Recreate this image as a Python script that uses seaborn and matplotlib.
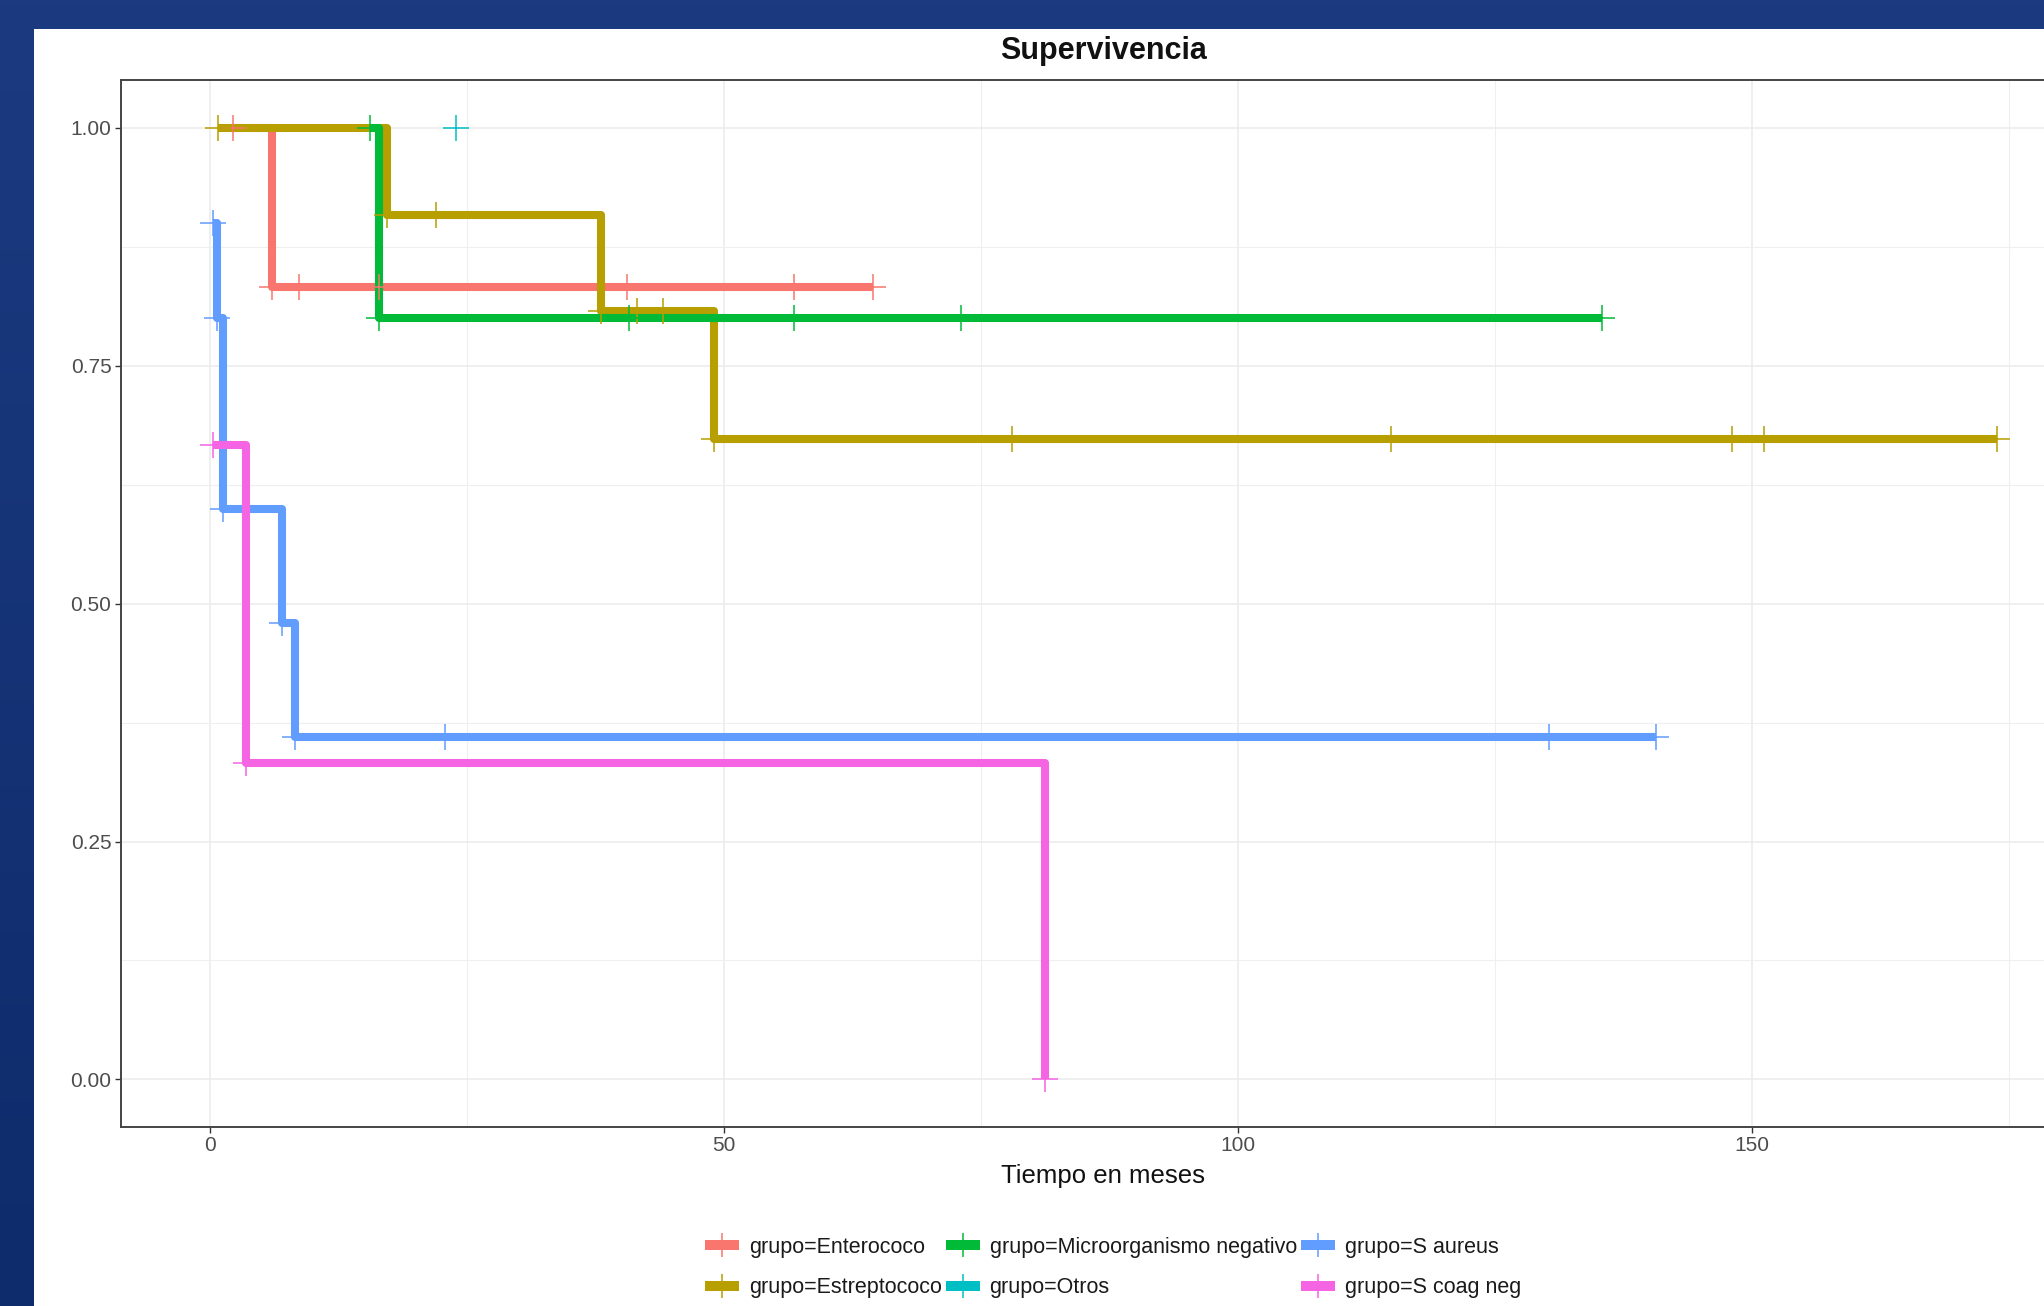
import numpy as np
import pandas as pd
import matplotlib
matplotlib.use("Agg")
import matplotlib.pyplot as plt
from matplotlib.lines import Line2D
from matplotlib.patches import Rectangle
from matplotlib.ticker import FixedLocator, FormatStrFormatter
import seaborn as sns

grupos = ["Enterococo", "Estreptococo", "Microorganismo negativo",
          "Otros", "S aureus", "S coag neg"]
colores = ["#F8766D", "#B79F00", "#00BA38", "#00BFC4", "#619CFF", "#F564E3"]

# Kaplan-Meier steps: time at which each survival level starts
# (each curve begins at its first observation; the last entry closes follow-up)
enterococo_t = [2.2, 6.0, 64.5]
enterococo_s = [1.000, 0.833, 0.833]
estreptococo_t = [0.8, 17.2, 38.0, 49.0, 173.8]
estreptococo_s = [1.000, 0.909, 0.808, 0.673, 0.673]
micro_neg_t = [15.6, 16.4, 135.4]
micro_neg_s = [1.000, 0.800, 0.800]
otros_t = [23.9]
otros_s = [1.000]
s_aureus_t = [0.3, 0.7, 1.3, 7.0, 8.3, 140.7]
s_aureus_s = [0.900, 0.800, 0.600, 0.480, 0.360, 0.360]
s_coag_neg_t = [0.3, 3.5, 81.2]
s_coag_neg_s = [0.667, 0.333, 0.000]

# Times marked with "+" on each curve
enterococo_marcas = [2.2, 6.0, 8.7, 16.4, 40.6, 56.8, 64.5]
estreptococo_marcas = [0.8, 17.2, 22.0, 38.0, 41.5, 44.1, 49.0,
                       78.0, 114.9, 148.1, 151.2, 173.8]
micro_neg_marcas = [15.6, 16.4, 40.8, 56.8, 73.1, 135.4]
otros_marcas = [23.9]
s_aureus_marcas = [0.3, 0.7, 1.3, 7.0, 8.3, 22.9, 130.3, 140.7]
s_coag_neg_marcas = [0.3, 3.5, 81.2]

x_ticks = [0, 50, 100, 150]
y_ticks = [0.00, 0.25, 0.50, 0.75, 1.00]

curvas_t = [enterococo_t, estreptococo_t, micro_neg_t, otros_t, s_aureus_t, s_coag_neg_t]
curvas_s = [enterococo_s, estreptococo_s, micro_neg_s, otros_s, s_aureus_s, s_coag_neg_s]
marcas_t = [enterococo_marcas, estreptococo_marcas, micro_neg_marcas,
            otros_marcas, s_aureus_marcas, s_coag_neg_marcas]


def nivel(ts, ss, t):
    idx = np.searchsorted(np.asarray(ts), t, side="right") - 1
    return ss[max(idx, 0)]


curvas = pd.concat(
    [pd.DataFrame({"tiempo": t, "supervivencia": s, "grupo": g})
     for g, t, s in zip(grupos, curvas_t, curvas_s)],
    ignore_index=True)
marcas = pd.concat(
    [pd.DataFrame({"tiempo": m,
                   "supervivencia": [nivel(t, s, v) for v in m],
                   "grupo": g})
     for g, t, s, m in zip(grupos, curvas_t, curvas_s, marcas_t)],
    ignore_index=True)

sns.set_theme(style="white")
plt.rcParams["font.family"] = ["Liberation Sans", "DejaVu Sans"]

W, H = 2044, 1306
fig = plt.figure(figsize=(W / 100, H / 100), dpi=100)

# Slide background with the white card
bg = fig.add_axes([0, 0, 1, 1], zorder=-10)
grad = np.linspace(0, 1, 256).reshape(-1, 1)
top_c = np.array([0x1B, 0x3A, 0x80]) / 255
bot_c = np.array([0x0E, 0x2B, 0x6B]) / 255
img = top_c[None, None, :] * (1 - grad[:, :, None]) + bot_c[None, None, :] * grad[:, :, None]
bg.imshow(img, aspect="auto", extent=[0, 1, 0, 1], origin="upper")
bg.add_patch(Rectangle((34 / W, 0), 1, 1 - 29 / H, transform=bg.transAxes,
                       facecolor="white", edgecolor="none"))
bg.set_xlim(0, 1)
bg.set_ylim(0, 1)
bg.axis("off")

# Plot panel
px_left, px_right = 120.7, 2086.0
px_top, px_bottom = 80.4, 1127.0
ax = fig.add_axes([px_left / W, 1 - px_bottom / H,
                   (px_right - px_left) / W, (px_bottom - px_top) / H])
ax.set_facecolor("white")

sns.lineplot(data=curvas, x="tiempo", y="supervivencia", hue="grupo",
             hue_order=grupos, palette=colores, estimator=None, sort=False,
             drawstyle="steps-post", linewidth=5.8, legend=False, ax=ax,
             solid_joinstyle="round", solid_capstyle="butt", zorder=2)
sns.scatterplot(data=marcas, x="tiempo", y="supervivencia", hue="grupo",
                hue_order=grupos, palette=colores, marker="+", s=350,
                linewidth=1.1, legend=False, ax=ax, zorder=3)

xmax = max(max(t) for t in curvas_t)
ax.set_xlim(-0.05 * xmax, 1.05 * xmax)
ax.set_ylim(-0.05, 1.05)

ax.xaxis.set_major_locator(FixedLocator(x_ticks))
ax.xaxis.set_minor_locator(FixedLocator([25, 75, 125, 175]))
ax.yaxis.set_major_locator(FixedLocator(y_ticks))
ax.yaxis.set_minor_locator(FixedLocator([0.125, 0.375, 0.625, 0.875]))
ax.yaxis.set_major_formatter(FormatStrFormatter("%.2f"))
ax.grid(True, which="major", color="#EBEBEB", linewidth=1.1, zorder=0)
ax.grid(True, which="minor", color="#EFEFEF", linewidth=0.8, zorder=0)
ax.set_axisbelow(True)

for sp in ax.spines.values():
    sp.set_color("#444444")
    sp.set_linewidth(1.4)

ax.tick_params(axis="both", which="major", direction="out", length=4.3,
               width=1.0, color="#333333", labelsize=15, labelcolor="#4D4D4D",
               pad=2.4, left=True, bottom=True)
ax.tick_params(axis="both", which="minor", length=0)

ax.set_ylabel("")
ax.set_xlabel("Tiempo en meses", fontsize=18.5, color="#111111")
ax.xaxis.label.set_va("baseline")
ax.xaxis.set_label_coords(0.5, -(1183 - px_bottom) / (px_bottom - px_top))

fig.text((px_left + px_right) / 2 / W, 1 - 59 / H, "Supervivencia",
         ha="center", va="baseline", fontsize=22, fontweight="bold",
         color="#111111")

handles = [Line2D([], [], color=c, linewidth=7.2, marker="+", markersize=17,
                  markeredgewidth=1.1, solid_capstyle="butt")
           for c in colores]
labels = [f"grupo={g}" for g in grupos]
fig.legend(handles, labels, ncol=3, loc="upper left",
           bbox_to_anchor=(705 / W, 1 - 1237 / H), frameon=False,
           fontsize=15.5, handlelength=1.57, handletextpad=0.46,
           columnspacing=0.2, labelspacing=0.9, borderpad=0,
           borderaxespad=0, labelcolor="#1A1A1A")

fig.savefig("out.png", dpi=100)
